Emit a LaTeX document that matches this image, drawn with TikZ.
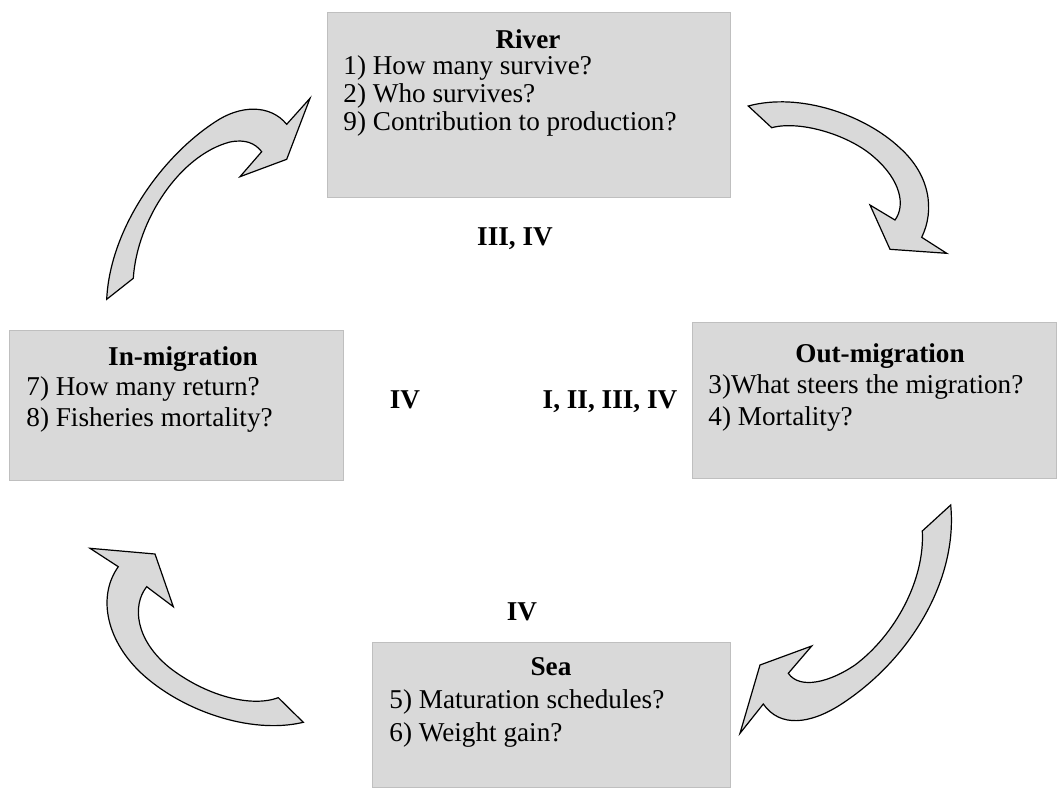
\documentclass[tikz,border=0pt]{standalone}
\usepackage{fontspec}
\setmainfont{Liberation Serif}
\usetikzlibrary{fit}
\definecolor{boxgray}{HTML}{D9D9D9}
\definecolor{edgegray}{HTML}{BFBFBF}
\tikzset{
  box/.style={fill=boxgray, draw=edgegray, line width=0.5pt, inner sep=0pt},
  blockarrow/.style={fill=boxgray, draw=black, line width=0.6pt, line join=miter},
  title/.style={anchor=base, inner sep=0pt, font=\fontsize{13.6}{15}\selectfont\bfseries},
  line/.style={anchor=base west, inner sep=0pt, font=\fontsize{13.6}{15}\selectfont},
  lab/.style={anchor=base, inner sep=0pt, font=\fontsize{13.6}{15}\selectfont\bfseries}
}
\begin{document}
\begin{tikzpicture}[x=0.5pt, y=-0.5pt]
\useasboundingbox (0,0) rectangle (1062,788);

% boxes
\node[box, fit={(327,12) (730,197)}] (river) {};
\node[box, fit={(9,330) (343,480)}] (inmig) {};
\node[box, fit={(692,322) (1056,478)}] (outmig) {};
\node[box, fit={(372,642) (730,787)}] (sea) {};

% River text
\node[title] (riverT) at (528,48) {River};
\node[line] (river1) at (343,74) {1) How many survive?};
\node[line] (river2) at (343,102) {2) Who survives?};
\node[line] (river9) at (343,130) {9) Contribution to production?};

% In-migration text
\node[title] (inT) at (183,365) {In-migration};
\node[line] (in7) at (26,395) {7) How many return?};
\node[line] (in8) at (26,426) {8) Fisheries mortality?};

% Out-migration text
\node[title] (outT) at (880,362) {Out-migration};
\node[line] (out3) at (708,393) {3)What steers the migration?};
\node[line] (out4) at (708,425) {4) Mortality?};

% Sea text
\node[title] (seaT) at (551,675) {Sea};
\node[line] (sea5) at (389,708) {5) Maturation schedules?};
\node[line] (sea6) at (389,741) {6) Weight gain?};

% labels
\node[lab] (labA) at (515,245) {III, IV};
\node[lab] (labB) at (405,408) {IV};
\node[lab] (labC) at (610,408) {I, II, III, IV};
\node[lab] (labD) at (522,620) {IV};

% arrow: In-migration -> River
\filldraw[blockarrow] (106.7,299.3) -- (133.3,278.3)
  .. controls (137,220) and (180,155) .. (230,142)
  .. controls (245,139) and (255,143) .. (261.7,151.7)
  -- (240,176.7) -- (286.7,159.3) -- (310,98.3) -- (286.7,124.3)
  .. controls (270,104) and (240,105) .. (215,122)
  .. controls (160,158) and (110,230) .. (106.7,299.3) -- cycle;

% arrow: River -> Out-migration
\filldraw[blockarrow] (748.3,106) -- (771.7,127.7)
  .. controls (800,120) and (850,135) .. (875,158)
  .. controls (900,180) and (906,205) .. (895,220)
  -- (870,205) -- (890,249.3) -- (946.7,253.3) -- (921.7,237.3)
  .. controls (935,210) and (930,175) .. (900,148)
  .. controls (865,115) and (800,92) .. (748.3,106) -- cycle;

% arrow: Out-migration -> Sea
\filldraw[blockarrow] (950.7,505)
  .. controls (958,580) and (910,660) .. (840,705)
  .. controls (810,724) and (780,728) .. (763.3,704)
  -- (740,733.3) -- (760,665) -- (811.7,646) -- (788.3,673.3)
  .. controls (800,690) and (830,682) .. (855,665)
  .. controls (895,635) and (925,580) .. (922.3,531) -- cycle;

% arrow: Sea -> In-migration
\filldraw[blockarrow] (303.3,722.3)
  .. controls (250,735) and (180,710) .. (140,672)
  .. controls (105,638) and (98,595) .. (118.3,566.7)
  -- (90,548.3) -- (155,554) -- (173.3,606.7) -- (146.7,586.7)
  .. controls (132,605) and (135,640) .. (170,668)
  .. controls (205,695) and (250,708) .. (278.3,697.7) -- cycle;
\end{tikzpicture}
\end{document}
